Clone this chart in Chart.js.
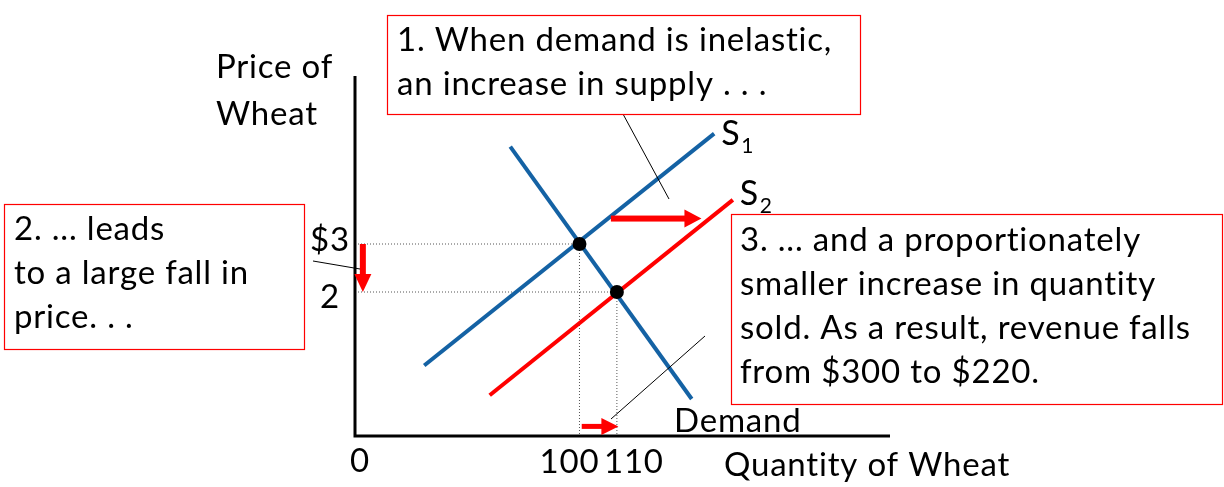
<!DOCTYPE html>
<html>
<head>
<meta charset="utf-8">
<title>Inelastic demand and an increase in supply</title>
<script src="https://cdn.jsdelivr.net/npm/chart.js@4.4.1/dist/chart.umd.min.js"></script>
<style>
  html, body { margin: 0; padding: 0; background: #fff; }
  #wrap { position: relative; width: 1224px; height: 487px; }
</style>
</head>
<body>
<div id="wrap"><canvas id="wheatChart" width="1224" height="487"></canvas></div>
<script>
// ---- data: quantity of wheat (x) and price of wheat (y); the axis is broken at the origin ----
const qRange = [40, 183];
const pRange = [-1, 6.5];
const quantityTicks = [100, 110];
const quantityTickLabels = ['100', '110'];
const priceTicks = [3, 2];
const priceTickLabels = ['$3', '2'];

const equilibriumQ = [100, 110];
const equilibriumP = [3, 2];

const supply1Q = [58.5, 136];
const supply1P = [0.47, 5.3];
const supply2Q = [76, 141];
const supply2P = [-0.15, 3.92];
const demandQ = [81.5, 130];
const demandP = [5.03, -0.23];

// red arrows: price fall, supply shift, quantity rise
const priceArrowQ = [42.1, 42.1];
const priceArrowP = [3, 2];
const shiftArrowQ = [108.4, 132.6];
const shiftArrowP = [3.53, 3.53];
const qtyArrowQ = [100.6, 110.4];
const qtyArrowP = [-0.8, -0.8];

const box1Lines = ['1. When demand is inelastic,', 'an increase in supply . . .'];
const box2Lines = ['2. ... leads', 'to a large fall in', 'price. . .'];
const box3Lines = ['3. ... and a proportionately', 'smaller increase in quantity',
                   'sold. As a result, revenue falls', 'from $300 to $220.'];

const BLUE = '#1462a4';
const RED = '#ff0000';
const FONT = "Lato, 'Open Sans', sans-serif";
const TEXT_SIZE = 33;

const pts = (qs, ps) => qs.map((q, i) => ({ x: q, y: ps[i] }));

function guide(points) {
  return {
    data: points, showLine: true, borderColor: '#555', borderWidth: 1,
    borderDash: [1, 2], pointRadius: 0, fill: false, order: 10
  };
}

const datasets = [
  // dotted guides
  guide([{ x: qRange[0], y: equilibriumP[0] }, { x: equilibriumQ[0], y: equilibriumP[0] }]),
  guide([{ x: qRange[0], y: equilibriumP[1] }, { x: equilibriumQ[1], y: equilibriumP[1] }]),
  guide([{ x: equilibriumQ[0], y: equilibriumP[0] }, { x: equilibriumQ[0], y: pRange[0] }]),
  guide([{ x: equilibriumQ[1], y: equilibriumP[1] }, { x: equilibriumQ[1], y: pRange[0] }]),
  { label: 'S1', data: pts(supply1Q, supply1P), showLine: true, borderColor: BLUE, borderWidth: 4,
    pointRadius: 0, borderCapStyle: 'butt', order: 5 },
  { label: 'S2', data: pts(supply2Q, supply2P), showLine: true, borderColor: RED, borderWidth: 4,
    pointRadius: 0, borderCapStyle: 'butt', order: 5 },
  { label: 'Demand', data: pts(demandQ, demandP), showLine: true, borderColor: BLUE, borderWidth: 4,
    pointRadius: 0, borderCapStyle: 'butt', order: 5 },
  { label: 'Equilibrium', data: pts(equilibriumQ, equilibriumP), showLine: false, pointRadius: 7,
    pointBackgroundColor: '#000', pointBorderColor: '#000', pointBorderWidth: 0, order: 0 }
];

function drawArrow(ctx, x1, y1, x2, y2, shaft, headLen, headW) {
  const ang = Math.atan2(y2 - y1, x2 - x1);
  const len = Math.hypot(x2 - x1, y2 - y1);
  ctx.save();
  ctx.translate(x1, y1);
  ctx.rotate(ang);
  ctx.fillStyle = RED;
  ctx.fillRect(0, -shaft / 2, len - headLen + 1, shaft);
  ctx.beginPath();
  ctx.moveTo(len, 0);
  ctx.lineTo(len - headLen, -headW / 2);
  ctx.lineTo(len - headLen, headW / 2);
  ctx.closePath();
  ctx.fill();
  ctx.restore();
}

function setFont(ctx, size) {
  ctx.font = size + 'px ' + FONT;
  ctx.letterSpacing = '0.8px';
}

function drawBox(ctx, left, top, right, bottom, lines, textX, firstBase, step) {
  ctx.fillStyle = '#fff';
  ctx.fillRect(left, top, right - left, bottom - top);
  ctx.strokeStyle = RED;
  ctx.lineWidth = 1.2;
  ctx.strokeRect(left + 0.5, top + 0.5, right - left, bottom - top);
  ctx.fillStyle = '#000';
  setFont(ctx, TEXT_SIZE);
  ctx.textAlign = 'left';
  lines.forEach((t, i) => ctx.fillText(t, textX, firstBase + i * step));
}

const diagramPlugin = {
  id: 'diagram',
  afterDatasetsDraw(chart) {
    const { ctx, chartArea: a, scales: { x, y } } = chart;
    ctx.save();

    // axes
    ctx.strokeStyle = '#000';
    ctx.lineWidth = 3;
    ctx.beginPath();
    ctx.moveTo(a.left, a.top);
    ctx.lineTo(a.left, a.bottom);
    ctx.lineTo(a.right, a.bottom);
    ctx.stroke();

    // red arrows
    drawArrow(ctx, x.getPixelForValue(priceArrowQ[0]), y.getPixelForValue(priceArrowP[0]),
      x.getPixelForValue(priceArrowQ[1]), y.getPixelForValue(priceArrowP[1]), 6, 18, 17);
    drawArrow(ctx, x.getPixelForValue(shiftArrowQ[0]), y.getPixelForValue(shiftArrowP[0]),
      x.getPixelForValue(shiftArrowQ[1]), y.getPixelForValue(shiftArrowP[1]), 6, 17, 18);
    drawArrow(ctx, x.getPixelForValue(qtyArrowQ[0]), y.getPixelForValue(qtyArrowP[0]),
      x.getPixelForValue(qtyArrowQ[1]), y.getPixelForValue(qtyArrowP[1]), 5, 17, 17);

    // callout leader lines
    ctx.strokeStyle = '#000';
    ctx.lineWidth = 1;
    ctx.beginPath();
    ctx.moveTo(623, 114); ctx.lineTo(669, 199);
    ctx.moveTo(313, 261); ctx.lineTo(360, 269);
    ctx.moveTo(611, 419); ctx.lineTo(705, 336);
    ctx.stroke();

    ctx.fillStyle = '#000';
    ctx.textBaseline = 'alphabetic';
    setFont(ctx, TEXT_SIZE);

    // axis titles
    ctx.textAlign = 'left';
    ctx.fillText('Price of', 216, 78);
    ctx.fillText('Wheat', 216, 125);
    ctx.fillText('Quantity of Wheat', 724, 476);

    // tick labels
    ctx.fillText('0', a.left - 5, 472);
    ctx.textAlign = 'center';
    ctx.fillText(quantityTickLabels[0], x.getPixelForValue(quantityTicks[0]) - 10, 473);
    ctx.fillText(quantityTickLabels[1], x.getPixelForValue(quantityTicks[1]) + 17, 473);
    ctx.textAlign = 'right';
    ctx.fillText(priceTickLabels[0], a.left - 5, y.getPixelForValue(priceTicks[0]) + 7);
    ctx.fillText(priceTickLabels[1], a.left - 15, y.getPixelForValue(priceTicks[1]) + 16);

    // curve labels
    ctx.textAlign = 'left';
    const s1x = x.getPixelForValue(supply1Q[1]), s1y = y.getPixelForValue(supply1P[1]);
    setFont(ctx, 34);
    ctx.fillText('S', s1x + 7, s1y + 11);
    setFont(ctx, 21);
    ctx.fillText('1', s1x + 27, s1y + 19);
    const s2x = x.getPixelForValue(supply2Q[1]), s2y = y.getPixelForValue(supply2P[1]);
    setFont(ctx, 34);
    ctx.fillText('S', s2x + 7, s2y + 5);
    setFont(ctx, 21);
    ctx.fillText('2', s2x + 27, s2y + 13);
    setFont(ctx, TEXT_SIZE);
    ctx.fillText('Demand', 674, 432);

    // annotation boxes
    drawBox(ctx, 387, 15, 860, 114, box1Lines, 397, 51, 44);
    drawBox(ctx, 4, 204, 304, 349, box2Lines, 14, 240, 44);
    drawBox(ctx, 731, 214, 1222, 404, box3Lines, 740, 251, 44);

    ctx.restore();
  }
};

new Chart(document.getElementById('wheatChart'), {
  type: 'scatter',
  data: { datasets },
  options: {
    responsive: false,
    animation: false,
    layout: { padding: { left: 355, top: 76, right: 334, bottom: 51 } },
    plugins: { legend: { display: false }, tooltip: { enabled: false } },
    scales: {
      x: { type: 'linear', display: false, min: qRange[0], max: qRange[1] },
      y: { type: 'linear', display: false, min: pRange[0], max: pRange[1] }
    }
  },
  plugins: [diagramPlugin]
});
</script>
</body>
</html>
